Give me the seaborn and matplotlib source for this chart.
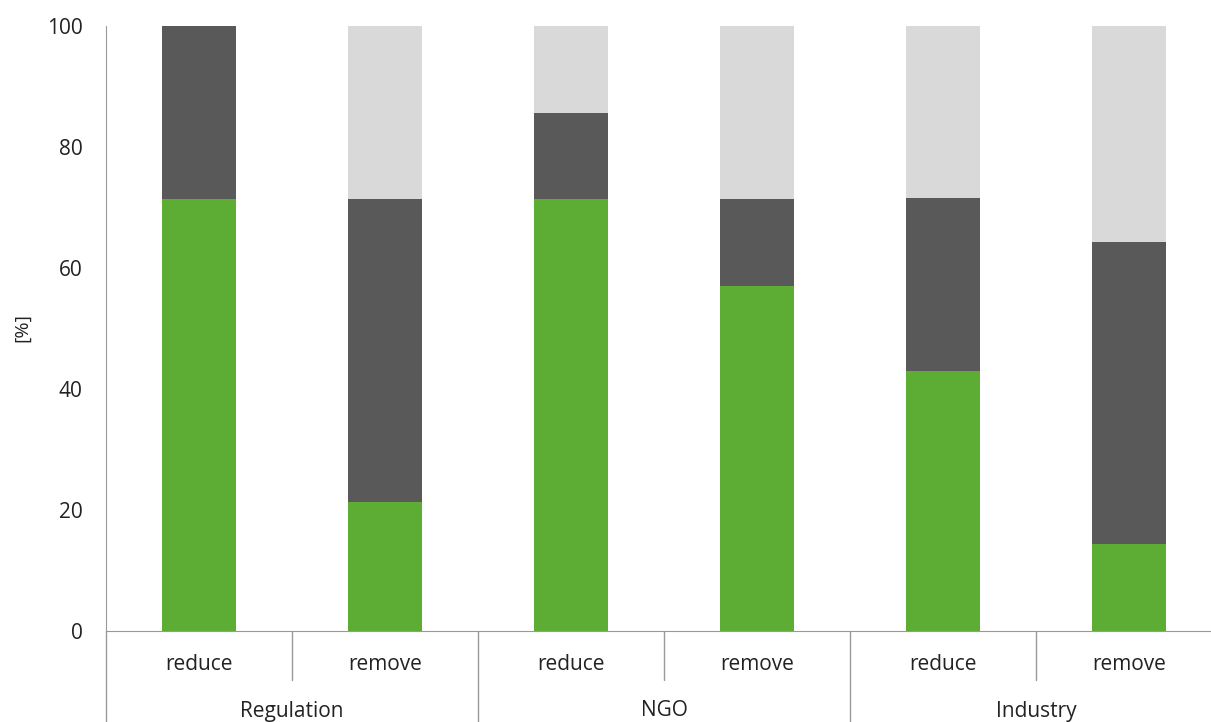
import numpy as np
import pandas as pd
import seaborn as sns
import matplotlib.pyplot as plt
from matplotlib.transforms import blended_transform_factory

groups = ["Regulation", "NGO", "Industry"]
actions = ["reduce", "remove"]
green_vals = [71.4, 21.4, 71.4, 57.1, 42.9, 14.3]
dark_vals = [28.6, 50.0, 14.3, 14.3, 28.6, 50.0]
light_vals = [0.0, 28.6, 14.3, 28.6, 28.6, 35.7]

bar_ids = [f"{g}|{a}" for g in groups for a in actions]
df = pd.DataFrame({
    "bar": bar_ids,
    "green": green_vals,
    "dark": dark_vals,
    "light": light_vals,
})
df["top_dark"] = df["green"] + df["dark"]
df["top_light"] = df["top_dark"] + df["light"]

sns.set_style("white")
plt.rcParams["font.family"] = ["Open Sans", "DejaVu Sans"]

fig = plt.figure(figsize=(12.11, 7.22), dpi=100)
ax = fig.add_axes([106 / 1211, 91 / 722, 1116 / 1211, 605 / 722])

# stacked bars drawn back to front
for col, c in [("top_light", "#d9d9d9"), ("top_dark", "#595959"), ("green", "#5dad35")]:
    sns.barplot(data=df, x="bar", y=col, order=bar_ids, color=c,
                width=0.4, saturation=1, linewidth=0, ax=ax)

ax.set_xlim(-0.5, len(bar_ids) - 0.5)
ax.set_ylim(0, 100)
ax.set_yticks(range(0, 101, 20))
ax.tick_params(axis="y", labelsize=15, colors="#222222", length=7, width=1,
               color="#999999", pad=10)
ax.set_ylabel("")
ax.set_xlabel("")
ax.set_xticks([])
fig.text(22 / 1211, 1 - 328 / 722, "[%]", rotation=90, ha="center", va="center",
         fontsize=14, color="#222222")

for s in ["top", "right"]:
    ax.spines[s].set_visible(False)
ax.spines["left"].set_color("#999999")
ax.spines["bottom"].set_color("#999999")

tr = blended_transform_factory(ax.transData, ax.transAxes)
px = 1 / 605  # one pixel in axes height units
for i, b in enumerate(bar_ids):
    ax.text(i, -34 * px, b.split("|")[1], transform=tr, ha="center", va="center",
            fontsize=15, color="#222222")
for k, g in enumerate(groups):
    ax.text(2 * k + 0.5, -80 * px, g, transform=tr, ha="center", va="center",
            fontsize=15, color="#222222", clip_on=False)
for k in range(len(groups)):
    ax.plot([2 * k + 0.5] * 2, [0, -49 * px], transform=tr, color="#999999",
            lw=1, clip_on=False)
for k in range(len(groups) + 1):
    ax.plot([2 * k - 0.5] * 2, [0, -95 * px], transform=tr, color="#999999",
            lw=1, clip_on=False)

fig.savefig("out.png", dpi=100)
